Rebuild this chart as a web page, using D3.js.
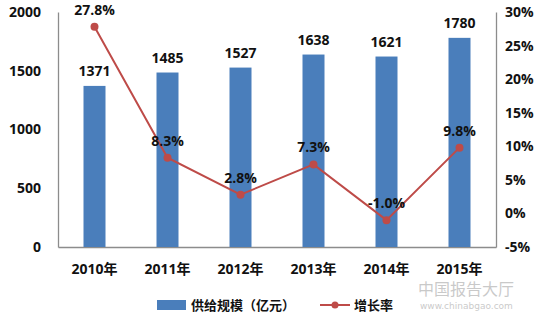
<!DOCTYPE html>
<html><head><meta charset="utf-8">
<script src="https://cdn.jsdelivr.net/npm/d3@7"></script>
<style>body{margin:0;background:#fff}svg{display:block}</style>
</head><body>
<svg id="c" width="550" height="313"></svg>
<script>
const categories = ["2010年","2011年","2012年","2013年","2014年","2015年"];
const supply = [1371,1485,1527,1638,1621,1780];
const growth = [27.8,8.3,2.8,7.3,-1.0,9.8];
const leftTicks = [0,500,1000,1500,2000];
const rightTicks = [-5,0,5,10,15,20,25,30];
const seriesNames = ["供给规模（亿元）","增长率"];

const svg = d3.select("#c");
const font = "'Open Sans','Noto Sans CJK SC',sans-serif";
const L = 58, R = 496, T = 12, B = 247;
const x = d3.scaleBand().domain(categories).range([L, R]);
const yL = d3.scaleLinear().domain([0, 2000]).range([B, T]);
const yR = d3.scaleLinear().domain([-5, 30]).range([B, T]);
const barW = 22;
const barColor = "#4a7ebb", lineColor = "#be4b48", axisColor = "#8c8c8c";

// axes
const gl = svg.append("g").attr("transform", `translate(${L},0)`)
  .call(d3.axisLeft(yL).tickValues(leftTicks).tickSize(0).tickPadding(17).tickFormat(d3.format("d")));
const gr = svg.append("g").attr("transform", `translate(${R},0)`)
  .call(d3.axisRight(yR).tickValues(rightTicks).tickSize(0).tickPadding(9).tickFormat(d => d + "%"));
const gb = svg.append("g").attr("transform", `translate(0,${B})`)
  .call(d3.axisBottom(x).tickSize(0).tickPadding(17));
[gl, gr, gb].forEach(g => {
  g.select(".domain").attr("stroke", axisColor).attr("stroke-width", 1.3);
  g.selectAll("text").attr("font-family", font).attr("font-weight", "bold")
    .attr("font-size", 14).attr("fill", "#111");
});

// bars
svg.append("g").selectAll("rect").data(supply).join("rect")
  .attr("x", (d, i) => x(categories[i]) + x.bandwidth() / 2 - barW / 2)
  .attr("y", d => yL(d)).attr("width", barW).attr("height", d => B - yL(d))
  .attr("fill", barColor);
svg.append("g").selectAll("text").data(supply).join("text")
  .attr("x", (d, i) => x(categories[i]) + x.bandwidth() / 2)
  .attr("y", d => yL(d) - 10).attr("text-anchor", "middle")
  .attr("font-family", font).attr("font-weight", "bold").attr("font-size", 14)
  .attr("fill", "#111").text(d => d);

// line
const cx = i => x(categories[i]) + x.bandwidth() / 2;
svg.append("path").datum(growth)
  .attr("d", d3.line().x((d, i) => cx(i)).y(d => yR(d)))
  .attr("fill", "none").attr("stroke", lineColor).attr("stroke-width", 2);
svg.append("g").selectAll("circle").data(growth).join("circle")
  .attr("cx", (d, i) => cx(i)).attr("cy", d => yR(d)).attr("r", 4)
  .attr("fill", lineColor);
svg.append("g").selectAll("text").data(growth).join("text")
  .attr("x", (d, i) => cx(i)).attr("y", d => yR(d) - 12).attr("text-anchor", "middle")
  .attr("font-family", font).attr("font-weight", "bold").attr("font-size", 14)
  .attr("fill", "#111").text(d => d.toFixed(1) + "%");

// legend
const lg = svg.append("g");
lg.append("rect").attr("x", 157).attr("y", 300).attr("width", 29).attr("height", 10).attr("fill", barColor);
lg.append("text").attr("x", 191).attr("y", 310).attr("font-family", font).attr("font-weight", "bold")
  .attr("font-size", 13).attr("fill", "#111").text(seriesNames[0]);
lg.append("line").attr("x1", 320).attr("x2", 350).attr("y1", 305).attr("y2", 305)
  .attr("stroke", lineColor).attr("stroke-width", 2);
lg.append("circle").attr("cx", 335).attr("cy", 305).attr("r", 3.5).attr("fill", lineColor);
lg.append("text").attr("x", 354).attr("y", 310).attr("font-family", font).attr("font-weight", "bold")
  .attr("font-size", 13).attr("fill", "#111").text(seriesNames[1]);

// watermark
const wm = svg.append("g").attr("opacity", 0.45);
wm.append("text").attr("x", 418).attr("y", 295).attr("font-family", "'Noto Sans CJK SC',sans-serif")
  .attr("font-size", 16).attr("fill", "#8a8a8a").text("中国报告大厅");
wm.append("text").attr("x", 420).attr("y", 309).attr("font-family", "'DejaVu Sans',sans-serif")
  .attr("font-size", 9).attr("fill", "#8a8a8a").text("www.chinabgao.com");
</script>
</body></html>
